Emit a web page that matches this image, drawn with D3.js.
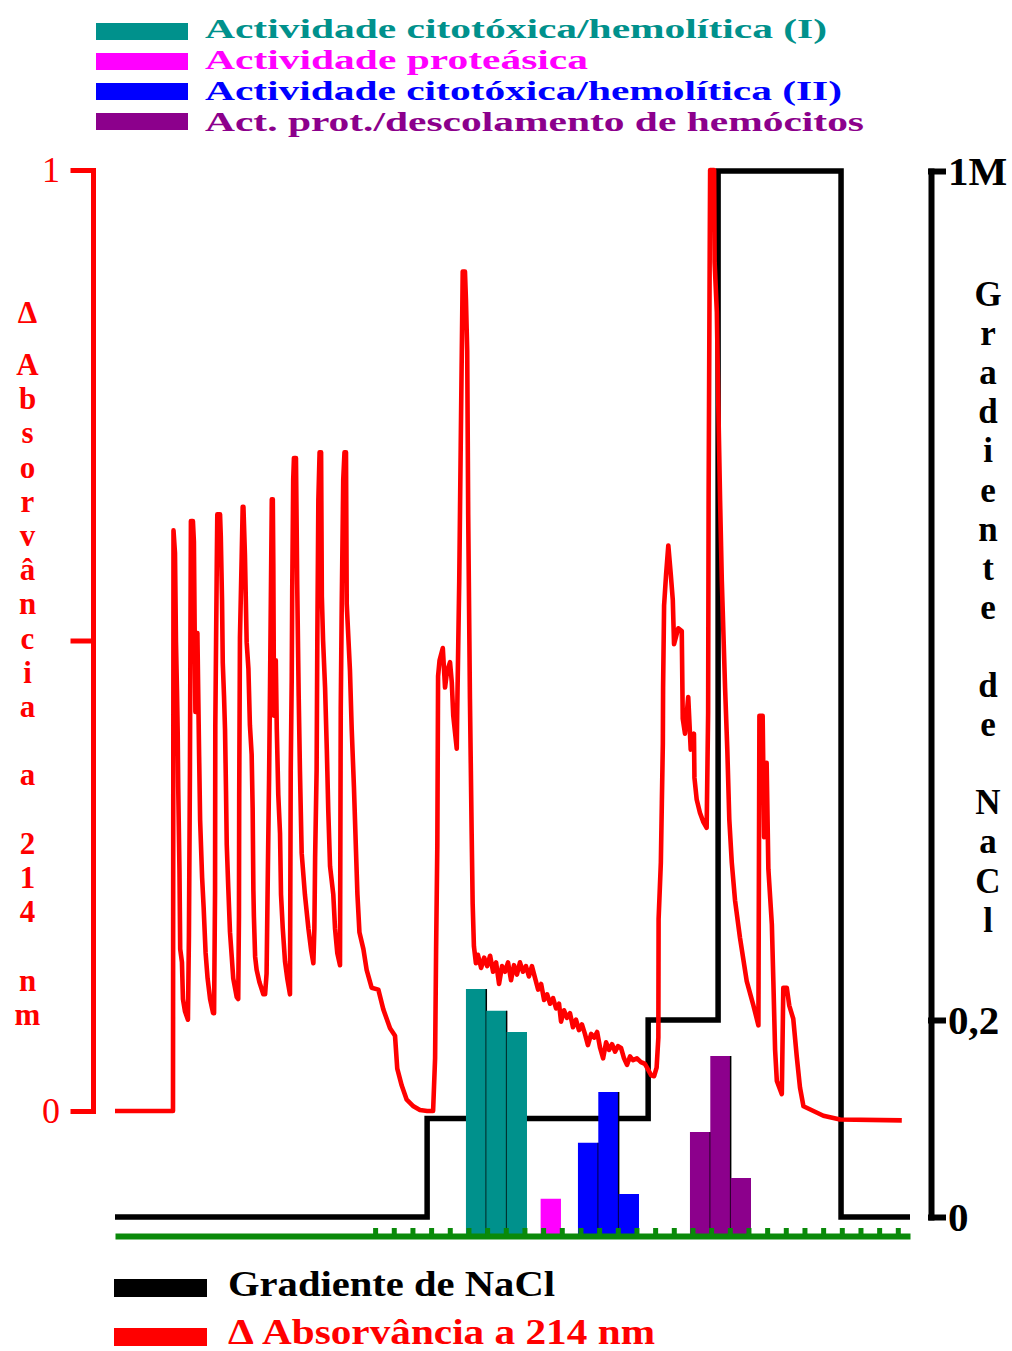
<!DOCTYPE html>
<html>
<head>
<meta charset="utf-8">
<script src="https://cdn.jsdelivr.net/npm/d3@7"></script>
<style>
  html, body { margin: 0; padding: 0; background: #fff; }
  svg { display: block; }
</style>
</head>
<body>
<svg id="chart" width="1012" height="1351"></svg>
<script>
// ---------------- data ----------------
// Elution volume (mL) and ΔA214 of the chromatogram trace
const elutionVolume = [
  0, 23.3, 23.5, 24.1, 24.5, 24.9, 25.2, 25.4, 25.9, 26.2, 26.9, 27.3, 28.1, 29.3,
  29.7, 30.1, 30.5, 31.3, 31.7, 32.3, 33.1, 33.8, 34.2, 35.0, 35.6, 36.4, 37.2, 38.2, 39.4,
  39.8, 40.2, 40.3, 40.6, 40.9, 41.1, 42.2, 42.5, 43.0, 43.3, 43.8, 44.2, 44.6, 44.9, 45.5, 46.2, 46.9, 47.5, 48.9, 49.5,
  49.8, 49.9, 50.2, 50.9, 51.3, 51.6, 52.2, 52.9, 53.6, 54.2, 54.9, 55.3, 55.6, 55.8, 56.3, 56.9, 58.0, 59.6,
  60.3, 60.9, 61.4, 61.9, 62.3, 63.0, 63.4, 63.6, 63.9, 64.6, 65.0, 65.6, 66.3, 66.7, 67.4, 68.3, 69.2, 70.3,
  70.6, 71.0, 71.2, 71.6, 71.9, 72.7, 73.0, 73.2, 73.8, 74.3, 75.0, 76.3, 77.7, 78.8, 79.7,
  80.1, 80.4, 81.0, 81.3, 81.7, 82.2, 82.8, 83.1, 83.6, 84.4, 85.1, 85.7, 86.4, 87.7, 88.4, 89.3, 90.4,
  90.7, 91.1, 91.7, 92.2, 92.8, 93.1, 94.4, 95.1, 96.0, 96.8, 97.4, 98.2, 99.8, 101.1, 103.1, 105.8, 107.8,
  110.5, 112.5, 113.4, 115.2, 117.2, 119.9, 122.5, 125.4, 127.8,
  128.6, 129.0, 129.5, 129.8, 130.4, 131.7, 132.6, 133.4, 134.6, 135.3, 135.9, 137.3, 137.5, 138.3, 138.9,
  139.7, 140.6, 141.0, 141.5, 141.9, 142.6, 143.3, 143.7, 144.2, 145.0,
  145.8, 147.1, 148.3, 149.5, 150.7, 151.9, 153.1, 154.3, 155.5, 156.7, 157.9, 159.1, 160.3, 161.5, 162.7,
  163.9, 165.1, 166.3, 167.5, 168.8, 170.0, 171.2, 172.4, 173.6, 174.8, 176.0, 177.2, 178.4, 179.2, 180.4,
  181.6, 182.8, 184.0, 185.2, 186.4, 187.6, 188.8, 190.0, 191.3, 192.5, 193.7, 194.9, 196.1, 197.3, 198.5,
  199.7, 200.9, 202.1, 203.3, 204.5, 205.7, 206.9, 208.1, 209.7, 211.3, 212.9, 214.2, 215.4, 216.6, 217.6,
  218.3, 218.4, 219.3, 219.7, 220.1, 220.2, 220.6, 221.4, 222.3, 223.3, 224.1, 224.6, 226.3, 227.7, 228.1,
  229.0, 230.3, 231.3, 232.6, 232.8, 233.7, 235.0, 236.4, 237.7, 238.3, 238.5, 238.9, 239.1, 240.7, 240.9,
  241.8, 242.4, 243.1, 243.8, 245.1, 246.0, 246.8, 247.8, 249.1, 251.1, 253.8, 256.5, 258.5, 258.9, 260.2,
  260.8, 261.8, 262.5, 263.9, 264.5, 265.2, 265.9, 267.9, 268.5, 269.9, 270.9, 272.5, 273.9, 275.2, 276.6,
  284.6, 291.3, 316.1
];
const absorbance214 = [
  0, 0, 0.617, 0.593, 0.498, 0.447, 0.400, 0.344, 0.256, 0.172, 0.158, 0.119, 0.106, 0.097,
  0.186, 0.359, 0.627, 0.627, 0.605, 0.424, 0.508, 0.377, 0.309, 0.248, 0.217, 0.168, 0.141, 0.119, 0.104,
  0.104, 0.234, 0.410, 0.496, 0.584, 0.634, 0.634, 0.611, 0.543, 0.476, 0.441, 0.406, 0.340, 0.283, 0.238, 0.190, 0.164, 0.141, 0.121, 0.119,
  0.207, 0.336, 0.503, 0.589, 0.642, 0.642, 0.591, 0.498, 0.470, 0.410, 0.379, 0.322, 0.234, 0.207, 0.164, 0.150, 0.137, 0.124,
  0.124, 0.146, 0.252, 0.353, 0.455, 0.650, 0.650, 0.582, 0.420, 0.479, 0.406, 0.336, 0.295, 0.230, 0.194, 0.159, 0.141, 0.124,
  0.362, 0.459, 0.552, 0.671, 0.694, 0.694, 0.617, 0.560, 0.441, 0.362, 0.274, 0.230, 0.194, 0.171, 0.157,
  0.194, 0.269, 0.362, 0.507, 0.649, 0.700, 0.700, 0.547, 0.500, 0.450, 0.384, 0.318, 0.260, 0.230, 0.194, 0.168, 0.155,
  0.428, 0.539, 0.671, 0.700, 0.700, 0.539, 0.468, 0.406, 0.344, 0.278, 0.230, 0.190, 0.172, 0.150, 0.131, 0.129, 0.108,
  0.088, 0.080, 0.045, 0.027, 0.012, 0.005, 0.001, 0, 0,
  0.056, 0.170, 0.283, 0.462, 0.479, 0.492, 0.450, 0.467, 0.477, 0.456, 0.420, 0.385, 0.426, 0.563, 0.707,
  0.892, 0.892, 0.862, 0.808, 0.634, 0.438, 0.294, 0.220, 0.175, 0.157,
  0.166, 0.152, 0.163, 0.154, 0.165, 0.148, 0.158, 0.135, 0.154, 0.148, 0.158, 0.139, 0.155, 0.145, 0.158,
  0.148, 0.154, 0.143, 0.154, 0.141, 0.129, 0.135, 0.118, 0.124, 0.114, 0.120, 0.109, 0.114, 0.095, 0.107,
  0.099, 0.104, 0.089, 0.097, 0.086, 0.092, 0.082, 0.070, 0.082, 0.078, 0.084, 0.067, 0.056, 0.073, 0.065,
  0.071, 0.063, 0.069, 0.067, 0.056, 0.049, 0.058, 0.054, 0.056, 0.052, 0.050, 0.044, 0.038, 0.037, 0.046,
  0.078, 0.204, 0.264, 0.327, 0.390, 0.450, 0.537, 0.570, 0.601, 0.570, 0.543, 0.496, 0.513, 0.510, 0.417,
  0.401, 0.440, 0.384, 0.401, 0.354, 0.331, 0.317, 0.307, 0.301, 0.423, 0.656, 0.895, 1.0, 1.0, 0.902,
  0.849, 0.749, 0.649, 0.563, 0.450, 0.384, 0.310, 0.264, 0.224, 0.184, 0.138, 0.112, 0.091, 0.420, 0.420,
  0.291, 0.370, 0.257, 0.198, 0.138, 0.065, 0.032, 0.018, 0.131, 0.131, 0.112, 0.098, 0.058, 0.025, 0.005,
  -0.005, -0.009, -0.010
];

// NaCl step gradient: volume at which each concentration (M) starts
const naclVolume = [0, 125.4, 214.2, 242.3, 291.7, 319.4];
const naclConc   = [0, 0.1, 0.2, 1, 0, 0];

// Fraction collection
const fractionStart = 104.5;   // mL
const fractionVolume = 7.5;    // mL
const fractionCount = 28;

// Activities per fraction (% of maximum)
const cytoIFractions = [6, 7, 8];
const cytoIActivity = [98.8, 90.1, 81.6];
const proteaseFractions = [10];
const proteaseActivity = [14.9];
const cytoIIFractions = [12, 13, 14];
const cytoIIActivity = [37.3, 57.6, 16.8];
const detachFractions = [18, 19, 20];
const detachActivity = [41.6, 72.0, 23.2];

// Axis ticks and labels
const absTicks = [0, 0.5, 1];
const absTickLabels = ["0", "", "1"];
const naclTicks = [0, 0.2, 1];
const naclTickLabels = ["0", "0,2", "1M"];

// Legend texts
const activityLegend = [
  "Actividade citotóxica/hemolítica (I)",
  "Actividade proteásica",
  "Actividade citotóxica/hemolítica (II)",
  "Act. prot./descolamento de hemócitos"
];
const traceLegend = ["Gradiente de NaCl", "\u0394 Absorvância a 214 nm"];
const leftTitle = "Absorvância a 214 nm";
const rightTitle = "Gradiente de NaCl";

// ---------------- styles ----------------
const FONT = '"Liberation Serif","Times New Roman",serif';
const RED = "#ff0000";
const GREEN = "#0a8a0a";
const activityColors = ["#00918c", "#ff00ff", "#0000ff", "#8c008c"];
const activityTextWidths = [622, 383, 637, 659];

// ---------------- scales ----------------
const x = d3.scaleLinear().domain([0, 319.4]).range([115, 910]);
const yAbs = d3.scaleLinear().domain([0, 1]).range([1111, 170]);
const yNaCl = d3.scaleLinear().domain([0, 0.2, 1]).range([1217, 1020, 171]);
const yAct = d3.scaleLinear().domain([0, 100]).range([1236, 986]);

const svg = d3.select("#chart");
svg.append("rect").attr("width", 1012).attr("height", 1351).attr("fill", "#fff");

// ---------------- top legend ----------------
const topLegend = svg.append("g");
activityLegend.forEach((label, i) => {
  topLegend.append("rect")
    .attr("x", 96).attr("y", 23 + 30 * i)
    .attr("width", 92).attr("height", 17)
    .attr("fill", activityColors[i]);
  topLegend.append("text")
    .attr("x", 205).attr("y", 37.5 + 31.2 * i)
    .attr("fill", activityColors[i])
    .attr("font-family", FONT).attr("font-size", 28).attr("font-weight", "bold")
    .attr("textLength", activityTextWidths[i]).attr("lengthAdjust", "spacingAndGlyphs")
    .text(label);
});

// ---------------- left axis (ΔA214) ----------------
const leftAxis = d3.axisLeft(yAbs)
  .tickValues(absTicks)
  .tickFormat(d => absTickLabels[absTicks.indexOf(d)])
  .tickSize(20).tickSizeOuter(0).tickPadding(13);
const gL = svg.append("g").attr("transform", "translate(93,0)").call(leftAxis);
gL.selectAll("path, line")
  .attr("stroke", RED).attr("stroke-width", 5).attr("stroke-linecap", "square");
gL.selectAll("text")
  .attr("fill", RED).attr("font-family", FONT).attr("font-size", 36);

// stacked left title, one letter per line
const leftTitleText = svg.append("text")
  .attr("text-anchor", "middle")
  .attr("fill", RED).attr("font-family", FONT).attr("font-size", 31).attr("font-weight", "bold");
leftTitleText.append("tspan").attr("x", 27.5).attr("y", 323).text("\u0394");
Array.from(leftTitle).forEach((c, i) => {
  if (c === " ") return;
  leftTitleText.append("tspan").attr("x", 27.5).attr("y", 375 + 34.2 * i).text(c);
});

// ---------------- right axis (NaCl) ----------------
const rightAxis = d3.axisRight(yNaCl)
  .tickValues(naclTicks)
  .tickFormat(d => naclTickLabels[naclTicks.indexOf(d)])
  .tickSize(12).tickSizeOuter(0).tickPadding(5);
const gR = svg.append("g").attr("transform", "translate(931,0)").call(rightAxis);
gR.selectAll("path, line")
  .attr("stroke", "#000").attr("stroke-width", 6).attr("stroke-linecap", "square");
gR.selectAll("text")
  .attr("fill", "#000").attr("font-family", FONT).attr("font-size", 41).attr("font-weight", "bold");

// stacked right title
const rightTitleText = svg.append("text")
  .attr("text-anchor", "middle")
  .attr("fill", "#000").attr("font-family", FONT).attr("font-size", 35).attr("font-weight", "bold");
Array.from(rightTitle).forEach((c, i) => {
  if (c === " ") return;
  rightTitleText.append("tspan").attr("x", 988).attr("y", 306 + 39.1 * i).text(c);
});

// ---------------- NaCl gradient ----------------
const naclLine = d3.line()
  .x((d, i) => x(naclVolume[i]))
  .y((d, i) => yNaCl(naclConc[i]))
  .curve(d3.curveStepAfter);
svg.append("path")
  .attr("d", naclLine(naclConc))
  .attr("fill", "none").attr("stroke", "#000").attr("stroke-width", 5.5)
  .attr("stroke-linejoin", "miter");

// ---------------- activity bars ----------------
// Bars of a group sit side by side from the first tube's boundary,
// each slightly wider than the tube spacing.
const fracLo = n => fractionStart + fractionVolume * (n - 1);
const fracHi = n => fractionStart + fractionVolume * n;
const groups = [
  [cytoIFractions, cytoIActivity],
  [proteaseFractions, proteaseActivity],
  [cytoIIFractions, cytoIIActivity],
  [detachFractions, detachActivity]
];
const barLayer = svg.append("g");
groups.forEach(([fracs, vals], gi) => {
  const first = fracs[0];
  const w = (x(fracHi(first)) - x(fracLo(first))) * 1.09;
  const start = x(fracLo(first)) - 2.5;
  fracs.forEach((f, j) => {
    const x0 = start + (f - first) * w, x1 = x0 + w;
    barLayer.append("rect")
      .attr("x", x0).attr("y", yAct(vals[j]))
      .attr("width", w).attr("height", yAct(0) - yAct(vals[j]))
      .attr("fill", activityColors[gi]);
    if (j < fracs.length - 1) {
      barLayer.append("line")
        .attr("x1", x1).attr("x2", x1)
        .attr("y1", yAct(vals[j])).attr("y2", yAct(0))
        .attr("stroke", "#000").attr("stroke-width", 1.5);
    }
  });
});

// ---------------- absorbance trace ----------------
const absLine = d3.line()
  .x((d, i) => x(elutionVolume[i]))
  .y(d => yAbs(d));
svg.append("path")
  .attr("d", absLine(absorbance214))
  .attr("fill", "none").attr("stroke", RED).attr("stroke-width", 4.6)
  .attr("stroke-linejoin", "round");

// ---------------- fraction axis ----------------
const fractionBounds = d3.range(fractionCount + 1).map(k => fractionStart + fractionVolume * k);
const fracAxis = d3.axisTop(x).tickValues(fractionBounds).tickFormat("").tickSize(8).tickSizeOuter(0);
const gX = svg.append("g").attr("transform", "translate(0,1236)").call(fracAxis);
gX.select("path.domain").attr("stroke", GREEN).attr("stroke-width", 6);
gX.selectAll("line").attr("stroke", GREEN).attr("stroke-width", 5);

// ---------------- bottom legend ----------------
const traceColors = ["#000", RED];
const traceTextWidths = [327, 427];
traceLegend.forEach((label, i) => {
  svg.append("rect")
    .attr("x", 114).attr("y", 1279 + 49 * i)
    .attr("width", 93).attr("height", 18)
    .attr("fill", traceColors[i]);
  svg.append("text")
    .attr("x", 228).attr("y", 1296 + 47.5 * i)
    .attr("fill", traceColors[i])
    .attr("font-family", FONT).attr("font-size", 36).attr("font-weight", "bold")
    .attr("textLength", traceTextWidths[i]).attr("lengthAdjust", "spacingAndGlyphs")
    .text(label);
});
</script>
</body>
</html>
